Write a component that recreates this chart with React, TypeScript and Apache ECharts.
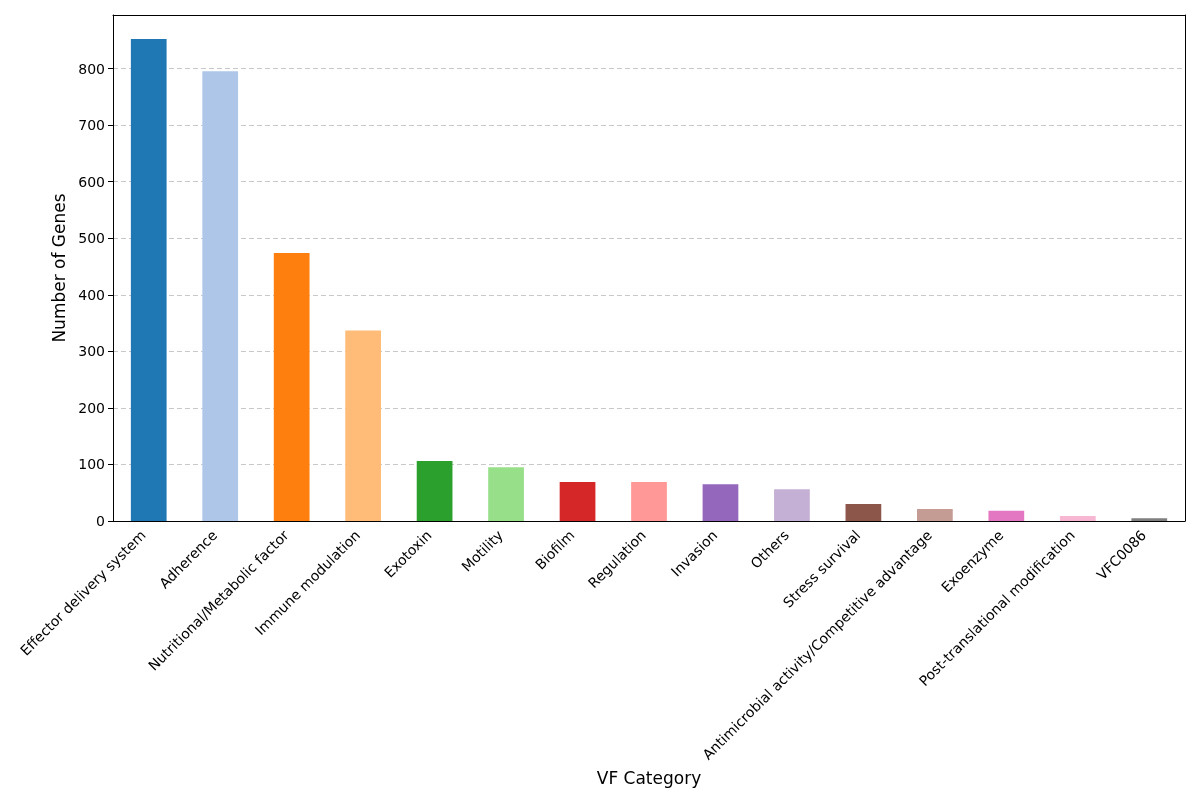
import React, { useEffect, useRef } from "react";
import * as echarts from "echarts";

const categories = [
  "Effector delivery system",
  "Adherence",
  "Nutritional/Metabolic factor",
  "Immune modulation",
  "Exotoxin",
  "Motility",
  "Biofilm",
  "Regulation",
  "Invasion",
  "Others",
  "Stress survival",
  "Antimicrobial activity/Competitive advantage",
  "Exoenzyme",
  "Post-translational modification",
  "VFC0086",
];

const geneCounts = [852, 795, 474, 337, 106, 95, 69, 69, 65, 56, 30, 21, 18, 9, 5];

const palette = [
  "#1f77b4", "#aec7e8", "#ff7f0e", "#ffbb78", "#2ca02c", "#98df8a", "#d62728",
  "#ff9896", "#9467bd", "#c5b0d5", "#8c564b", "#c49c94", "#e377c2", "#f7b6d2", "#7f7f7f",
];

const FONT = "DejaVu Sans";

export default function App() {
  const ref = useRef<HTMLDivElement>(null);
  useEffect(() => {
    if (!ref.current) return;
    const chart = echarts.init(ref.current, undefined, { renderer: "svg" });
    chart.setOption({
      animation: false,
      textStyle: { fontFamily: FONT },
      grid: {
        left: 113,
        right: 15,
        top: 15,
        bottom: 279,
        outerBoundsMode: "none",
        containLabel: false,
      },
      xAxis: [
        {
          type: "category",
          data: categories,
          name: "VF Category",
          nameLocation: "middle",
          nameGap: 247,
          nameTextStyle: { fontFamily: FONT, fontSize: 17, color: "#000" },
          axisLine: { onZero: false, lineStyle: { color: "#000", width: 1 } },
          axisTick: { alignWithLabel: true, length: 5, lineStyle: { color: "#000" } },
          axisLabel: {
            rotate: 45,
            interval: 0,
            fontFamily: FONT,
            fontSize: 14,
            color: "#000",
            margin: 6,
            padding: [0, 8, 0, 0],
          },
          splitLine: { show: false },
        },
        {
          type: "category",
          data: categories,
          position: "top",
          z: 10,
          axisLine: { show: true, onZero: false, lineStyle: { color: "#000", width: 1 } },
          axisTick: { show: false },
          axisLabel: { show: false },
          splitLine: { show: false },
        },
      ],
      yAxis: [
        {
          type: "value",
          min: 0,
          max: 894.6,
          interval: 100,
          name: "Number of Genes",
          nameLocation: "middle",
          nameGap: 41,
          nameTextStyle: { fontFamily: FONT, fontSize: 17, color: "#000" },
          axisLine: { show: true, onZero: false, lineStyle: { color: "#000", width: 1 } },
          axisTick: { show: true, length: 5, lineStyle: { color: "#000" } },
          axisLabel: {
            fontFamily: FONT,
            fontSize: 14,
            color: "#000",
            margin: 8,
            showMaxLabel: false,
          },
          splitLine: {
            show: true,
            showMinLine: false,
            showMaxLine: false,
            lineStyle: { color: "#c8c8c8", type: [5, 3], width: 1 },
          },
        },
        {
          type: "value",
          position: "right",
          min: 0,
          max: 894.6,
          z: 10,
          axisLine: { show: true, onZero: false, lineStyle: { color: "#000", width: 1 } },
          axisTick: { show: false },
          axisLabel: { show: false },
          splitLine: { show: false },
        },
      ],
      series: [
        {
          type: "bar",
          barWidth: "50%",
          xAxisIndex: 0,
          yAxisIndex: 0,
          data: geneCounts.map((v, i) => ({
            value: v,
            itemStyle: { color: palette[i % palette.length] },
          })),
        },
      ],
    });
    return () => chart.dispose();
  }, []);
  return (
    <div
      ref={ref}
      style={{ position: "fixed", left: 0, top: 0, width: 1200, height: 800 }}
    />
  );
}
